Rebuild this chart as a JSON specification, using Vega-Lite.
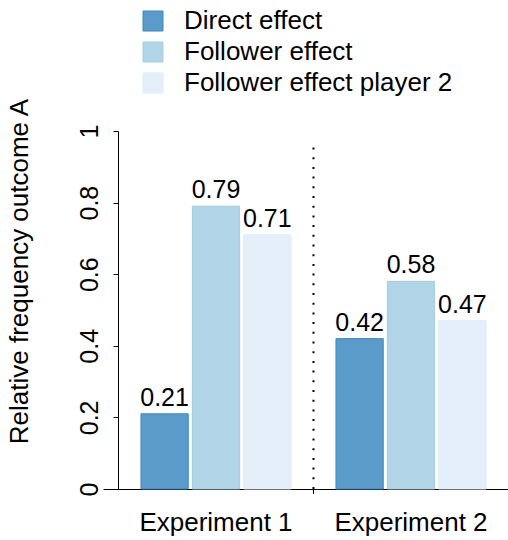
{
  "$schema": "https://vega.github.io/schema/vega-lite/v6.json",
  "autosize": {"type": "none"},
  "width": 405,
  "height": 358,
  "padding": {"left": 103, "top": 131, "right": 0, "bottom": 51},
  "background": "white",
  "config": {
    "view": {"stroke": null},
    "font": "Liberation Sans",
    "text": {"font": "Liberation Sans"}
  },
  "data": {
    "values": [
      {"experiment": "Experiment 1", "effect": "Direct effect", "value": 0.21},
      {"experiment": "Experiment 1", "effect": "Follower effect", "value": 0.79},
      {"experiment": "Experiment 1", "effect": "Follower effect player 2", "value": 0.71},
      {"experiment": "Experiment 2", "effect": "Direct effect", "value": 0.42},
      {"experiment": "Experiment 2", "effect": "Follower effect", "value": 0.58},
      {"experiment": "Experiment 2", "effect": "Follower effect player 2", "value": 0.47}
    ]
  },
  "layer": [
    {
      "mark": {"type": "bar", "strokeWidth": 1},
      "encoding": {
        "x": {
          "field": "experiment",
          "type": "nominal",
          "scale": {"paddingInner": 0.2308, "paddingOuter": 0.1538, "align": 0.633},
          "axis": {
            "title": null,
            "domain": true,
            "domainColor": "black",
            "domainWidth": 1,
            "ticks": false,
            "labelAngle": 0,
            "labelFontSize": 26,
            "labelPadding": 20,
            "labelColor": "black",
            "grid": false
          }
        },
        "xOffset": {
          "field": "effect",
          "type": "nominal",
          "sort": ["Direct effect", "Follower effect", "Follower effect player 2"],
          "scale": {"paddingInner": 0.08, "paddingOuter": 0}
        },
        "y": {
          "field": "value",
          "type": "quantitative",
          "scale": {"domain": [0, 1], "nice": false},
          "axis": {
            "title": "Relative frequency outcome A",
            "values": [0, 0.2, 0.4, 0.6, 0.8, 1],
            "format": "~g",
            "offset": -15,
            "grid": false,
            "tickSize": 5,
            "tickColor": "black",
            "domainColor": "black",
            "labelAngle": 270,
            "labelAlign": "center",
            "labelBaseline": "alphabetic",
            "labelFontSize": 25,
            "labelPadding": 16,
            "labelColor": "black",
            "titleFontSize": 26,
            "titleFontWeight": "normal",
            "titleColor": "black",
            "titleAngle": 270,
            "titleAlign": "center",
            "titleBaseline": "alphabetic",
            "titleX": -91,
            "titleY": 140
          }
        },
        "color": {
          "field": "effect",
          "type": "nominal",
          "sort": ["Direct effect", "Follower effect", "Follower effect player 2"],
          "scale": {
            "domain": ["Direct effect", "Follower effect", "Follower effect player 2"],
            "range": ["#5A9BCA", "#B1D5E7", "#E5EFF9"]
          },
          "legend": {
            "orient": "none",
            "legendX": 37,
            "legendY": -123,
            "title": null,
            "padding": 0,
            "symbolType": "square",
            "symbolSize": 400,
            "symbolStrokeWidth": 1,
            "labelFontSize": 26,
            "labelOffset": 18,
            "labelLimit": 0,
            "labelColor": "black",
            "rowPadding": 5
          }
        },
        "stroke": {
          "field": "effect",
          "type": "nominal",
          "sort": ["Direct effect", "Follower effect", "Follower effect player 2"],
          "scale": {
            "domain": ["Direct effect", "Follower effect", "Follower effect player 2"],
            "range": ["#3D88C1", "#A2CCE2", "#DFECF7"]
          },
          "legend": {
            "orient": "none",
            "legendX": 37,
            "legendY": -123,
            "title": null,
            "padding": 0,
            "symbolType": "square",
            "symbolSize": 400,
            "symbolStrokeWidth": 1,
            "labelFontSize": 26,
            "labelOffset": 18,
            "labelLimit": 0,
            "labelColor": "black",
            "rowPadding": 5
          }
        }
      }
    },
    {
      "mark": {"type": "text", "dy": -8, "fontSize": 25, "baseline": "alphabetic", "color": "black"},
      "encoding": {
        "x": {"field": "experiment", "type": "nominal"},
        "xOffset": {"field": "effect", "type": "nominal", "sort": ["Direct effect", "Follower effect", "Follower effect player 2"]},
        "y": {"field": "value", "type": "quantitative"},
        "text": {"field": "value", "type": "quantitative", "format": ".2f"}
      }
    },
    {
      "data": {"values": [{}]},
      "mark": {"type": "rule", "strokeDash": [2, 7.7], "strokeWidth": 2, "color": "black"},
      "encoding": {
        "x": {"datum": "Experiment 2", "type": "nominal", "bandPosition": -0.15},
        "y": {"datum": 0, "type": "quantitative"},
        "y2": {"datum": 0.9665}
      }
    },
    {
      "data": {"values": [{}]},
      "mark": {"type": "rule", "strokeWidth": 1, "color": "black"},
      "encoding": {
        "x": {"datum": "Experiment 2", "type": "nominal", "bandPosition": -0.15},
        "y": {"datum": 0, "type": "quantitative"},
        "y2": {"datum": -0.014}
      }
    }
  ]
}
